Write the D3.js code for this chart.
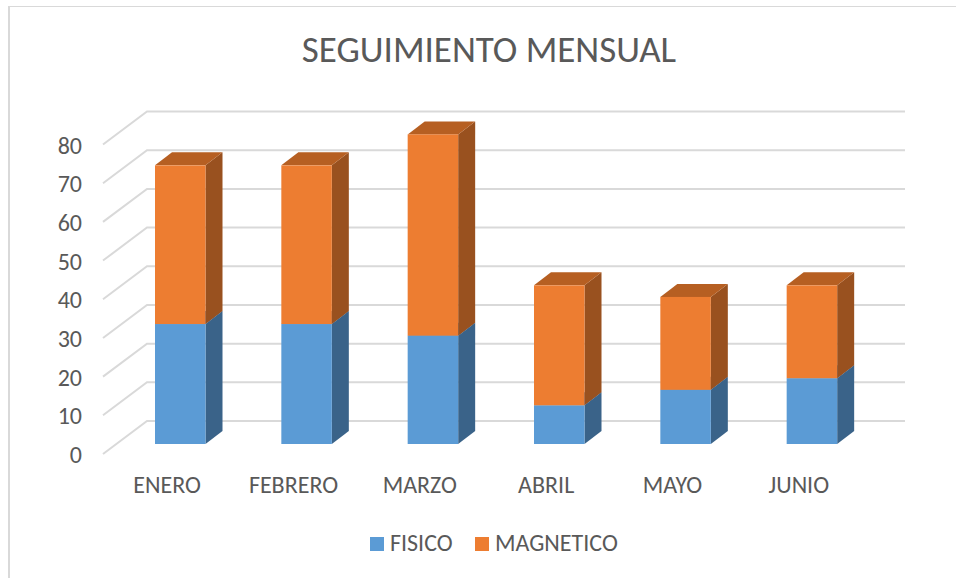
<!DOCTYPE html>
<html>
<head>
<meta charset="utf-8">
<script src="https://cdnjs.cloudflare.com/ajax/libs/d3/7.8.5/d3.min.js"></script>
<style>
html, body { margin: 0; padding: 0; background: #fff; }
svg { display: block; font-family: Carlito, Lato, "Open Sans", sans-serif; }
</style>
</head>
<body>
<div id="chart"></div>
<script>
var months = ["ENERO", "FEBRERO", "MARZO", "ABRIL", "MAYO", "JUNIO"];
var fisico = [31, 31, 28, 10, 14, 17];
var magnetico = [41, 41, 52, 31, 24, 24];
var yTicks = [0, 10, 20, 30, 40, 50, 60, 70, 80];
var seriesNames = ["FISICO", "MAGNETICO"];

var W = 956, H = 578;
var svg = d3.select("#chart").append("svg").attr("width", W).attr("height", H);

// chart frame: only top and left edges show in the picture
svg.append("path").attr("d", "M9,578V6").attr("fill", "none").attr("stroke", "#d9d9d9").attr("stroke-width", 2);
svg.append("path").attr("d", "M8,6.5H956").attr("fill", "none").attr("stroke", "#d9d9d9").attr("stroke-width", 1);

var x = d3.scaleBand().domain(months).range([103, 861]);
var y = d3.scaleLinear().domain([0, 80]).range([454, 144.5]);

// floor depth of the wall and of a single bar
var wallDx = 44, wallDy = -33;
var barDx = 17, barDy = -13;
var barOffset = 52, barW = 50.5, baseY = 444;
var barY = function(v) { return baseY - v * 3.87; };

var grid = svg.append("g").attr("fill", "none").attr("stroke", "#d9d9d9").attr("stroke-width", 2);
yTicks.forEach(function(t) {
    grid.append("path").attr("d", "M" + x.range()[0] + "," + y(t) + "l" + wallDx + "," + wallDy + "H905");
});

var axisFont = "24px";
svg.selectAll(".ytick").data(yTicks).enter().append("text")
    .attr("class", "ytick")
    .attr("x", 82).attr("y", function(d) { return y(d) + 9; })
    .attr("text-anchor", "end")
    .style("font-size", axisFont).style("fill", "#595959")
    .text(function(d) { return d; });

svg.selectAll(".xtick").data(months).enter().append("text")
    .attr("class", "xtick")
    .attr("x", function(d) { return x(d) + x.bandwidth() / 2 + 1; })
    .attr("y", 492.5)
    .attr("text-anchor", "middle")
    .style("font-size", axisFont).style("fill", "#595959")
    .text(function(d) { return d; });

function drawSegment(g, left, v0, v1, c) {
    var y0 = barY(v0), y1 = barY(v1);
    g.append("path").attr("fill", c.side)
        .attr("d", "M" + (left + barW) + "," + y0 + "l" + barDx + "," + barDy + "V" + (y1 + barDy) + "l" + (-barDx) + "," + (-barDy) + "Z");
    g.append("path").attr("fill", c.top)
        .attr("d", "M" + left + "," + y1 + "l" + barDx + "," + barDy + "h" + barW + "l" + (-barDx) + "," + (-barDy) + "Z");
    g.append("rect").attr("x", left).attr("y", y1).attr("width", barW).attr("height", y0 - y1).attr("fill", c.front);
}

var blue = { front: "#5b9bd5", side: "#3a6389", top: "#4a7fb0" };
var orange = { front: "#ed7d31", side: "#99511f", top: "#b65f22" };

months.forEach(function(m, i) {
    var g = svg.append("g");
    var left = x(m) + barOffset;
    drawSegment(g, left, 0, fisico[i], blue);
    drawSegment(g, left, fisico[i], fisico[i] + magnetico[i], orange);
});

svg.append("text").attr("x", 489).attr("y", 62).attr("text-anchor", "middle")
    .style("font-size", "37px").style("fill", "#595959").text("SEGUIMIENTO MENSUAL");

var legendX = [370, 475], legendColors = [blue.front, orange.front];
seriesNames.forEach(function(s, i) {
    svg.append("rect").attr("x", legendX[i]).attr("y", 537).attr("width", 14).attr("height", 14).attr("fill", legendColors[i]);
    svg.append("text").attr("x", legendX[i] + 20).attr("y", 551)
        .style("font-size", axisFont).style("fill", "#595959").text(s);
});
</script>
</body>
</html>
